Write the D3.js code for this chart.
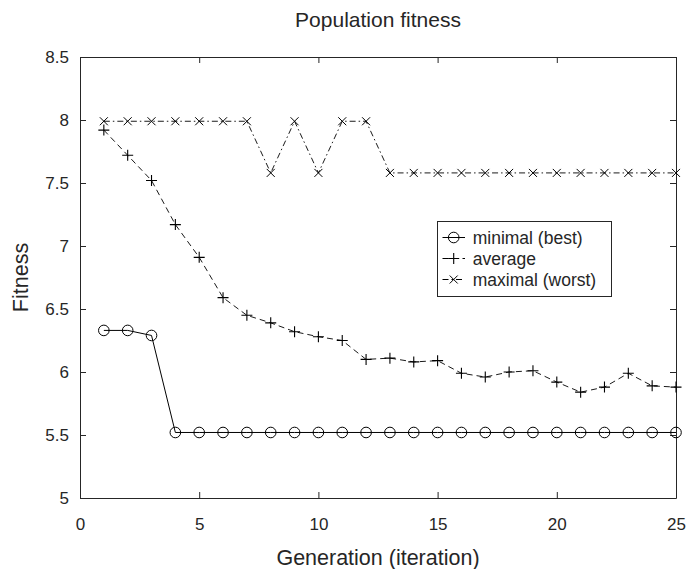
<!DOCTYPE html>
<html><head><meta charset="utf-8">
<script src="https://cdn.jsdelivr.net/npm/d3@7"></script>
<style>body{margin:0;background:#fff}svg{display:block}text{font-family:"Liberation Sans",Arial,Helvetica,sans-serif;fill:#262626}</style>
</head><body><svg id="c" width="687" height="569"></svg>
<script>
const generations = d3.range(1, 26);
const minimalBest = [6.33,6.33,6.29,5.52,5.52,5.52,5.52,5.52,5.52,5.52,5.52,5.52,5.52,5.52,5.52,5.52,5.52,5.52,5.52,5.52,5.52,5.52,5.52,5.52,5.52];
const average = [7.92,7.72,7.52,7.17,6.91,6.59,6.45,6.39,6.32,6.28,6.25,6.10,6.11,6.08,6.09,5.99,5.96,6.00,6.01,5.92,5.84,5.88,5.99,5.89,5.88];
const maximalWorst = [7.99,7.99,7.99,7.99,7.99,7.99,7.99,7.58,7.99,7.58,7.99,7.99,7.58,7.58,7.58,7.58,7.58,7.58,7.58,7.58,7.58,7.58,7.58,7.58,7.58];
const xTicks = [0,5,10,15,20,25];
const yTicks = [5,5.5,6,6.5,7,7.5,8,8.5];
const seriesNames = ["minimal (best)","average","maximal (worst)"];

const svg = d3.select("#c");
const L=80,R=676,T=57,B=498;
const x = d3.scaleLinear().domain([0,25]).range([L,R]);
const y = d3.scaleLinear().domain([5,8.5]).range([B,T]);

// axes
const ax = d3.axisBottom(x).tickValues(xTicks).tickSizeInner(-6).tickSizeOuter(0).tickPadding(20).tickFormat(d3.format("d"));
const gx = svg.append("g").attr("transform",`translate(0,${B})`).call(ax);
const gxt = svg.append("g").attr("transform",`translate(0,${T})`).call(d3.axisTop(x).tickValues(xTicks).tickSizeInner(-6).tickSizeOuter(0).tickFormat(""));
const ay = d3.axisLeft(y).tickValues(yTicks).tickSizeInner(-6).tickSizeOuter(0).tickPadding(11).tickFormat(d=>d3.format("")(d));
const gy = svg.append("g").attr("transform",`translate(${L},0)`).call(ay);
const gyr = svg.append("g").attr("transform",`translate(${R},0)`).call(d3.axisRight(y).tickValues(yTicks).tickSizeInner(-6).tickSizeOuter(0).tickFormat(""));
[gx,gxt,gy,gyr].forEach(g=>{
  g.selectAll("path").attr("stroke","#262626");
  g.selectAll("line").attr("stroke","#262626");
  g.selectAll("text").attr("font-size",17).style("fill","#262626");
});
gx.selectAll("text").attr("dy","0.71em");

const pts = arr => arr.map((v,i)=>[generations[i],v]);
const line = d3.line().x(d=>x(d[0])).y(d=>y(d[1]));

// maximal
svg.append("path").attr("d",line(pts(maximalWorst))).attr("fill","none").attr("stroke","#000").attr("stroke-width",0.9).attr("stroke-dasharray","6,3,1.5,3");
svg.append("g").selectAll("path").data(pts(maximalWorst)).join("path")
  .attr("transform",d=>`translate(${x(d[0])},${y(d[1])})`).attr("d","M-4,-4L4,4M-4,4L4,-4").attr("stroke","#000").attr("stroke-width",1);
// average
svg.append("path").attr("d",line(pts(average))).attr("fill","none").attr("stroke","#000").attr("stroke-width",0.9).attr("stroke-dasharray","6,4");
svg.append("g").selectAll("path").data(pts(average)).join("path")
  .attr("transform",d=>`translate(${x(d[0])},${y(d[1])})`).attr("d","M-5.5,0L5.5,0M0,-5.5L0,5.5").attr("stroke","#000").attr("stroke-width",1.1);
// minimal
svg.append("path").attr("d",line(pts(minimalBest))).attr("fill","none").attr("stroke","#000").attr("stroke-width",1);
svg.append("g").selectAll("circle").data(pts(minimalBest)).join("circle")
  .attr("cx",d=>x(d[0])).attr("cy",d=>y(d[1])).attr("r",5.3).attr("fill","none").attr("stroke","#000").attr("stroke-width",1);

// labels
svg.append("text").attr("x",(L+R)/2).attr("y",27).attr("text-anchor","middle").attr("font-size",21).text("Population fitness");
svg.append("text").attr("x",(L+R)/2).attr("y",565).attr("text-anchor","middle").attr("font-size",21.5).text("Generation (iteration)");
svg.append("text").attr("transform",`translate(28,${(T+B)/2}) rotate(-90)`).attr("text-anchor","middle").attr("font-size",21.5).text("Fitness");

// legend
const lg = svg.append("g");
lg.append("rect").attr("x",437.5).attr("y",221.5).attr("width",174).attr("height",75).attr("fill","#fff").attr("stroke","#262626").attr("stroke-width",1);
const rows=[237.5,258.5,279.5];
const styles=[null,"6,4","6,3,1.5,3"];
rows.forEach((ry,i)=>{
  lg.append("line").attr("x1",442.5).attr("x2",465).attr("y1",ry).attr("y2",ry).attr("stroke","#000").attr("stroke-dasharray",styles[i]);
  const mx=453.7;
  if(i===0) lg.append("circle").attr("cx",mx).attr("cy",ry).attr("r",5.3).attr("fill","none").attr("stroke","#000");
  if(i===1) lg.append("path").attr("transform",`translate(${mx},${ry})`).attr("d","M-5.5,0L5.5,0M0,-5.5L0,5.5").attr("stroke","#000").attr("stroke-width",1.1);
  if(i===2) lg.append("path").attr("transform",`translate(${mx},${ry})`).attr("d","M-4,-4L4,4M-4,4L4,-4").attr("stroke","#000");
  lg.append("text").attr("x",472.7).attr("y",ry).attr("dy","0.35em").attr("font-size",17.5).text(seriesNames[i]);
});
</script></body></html>
